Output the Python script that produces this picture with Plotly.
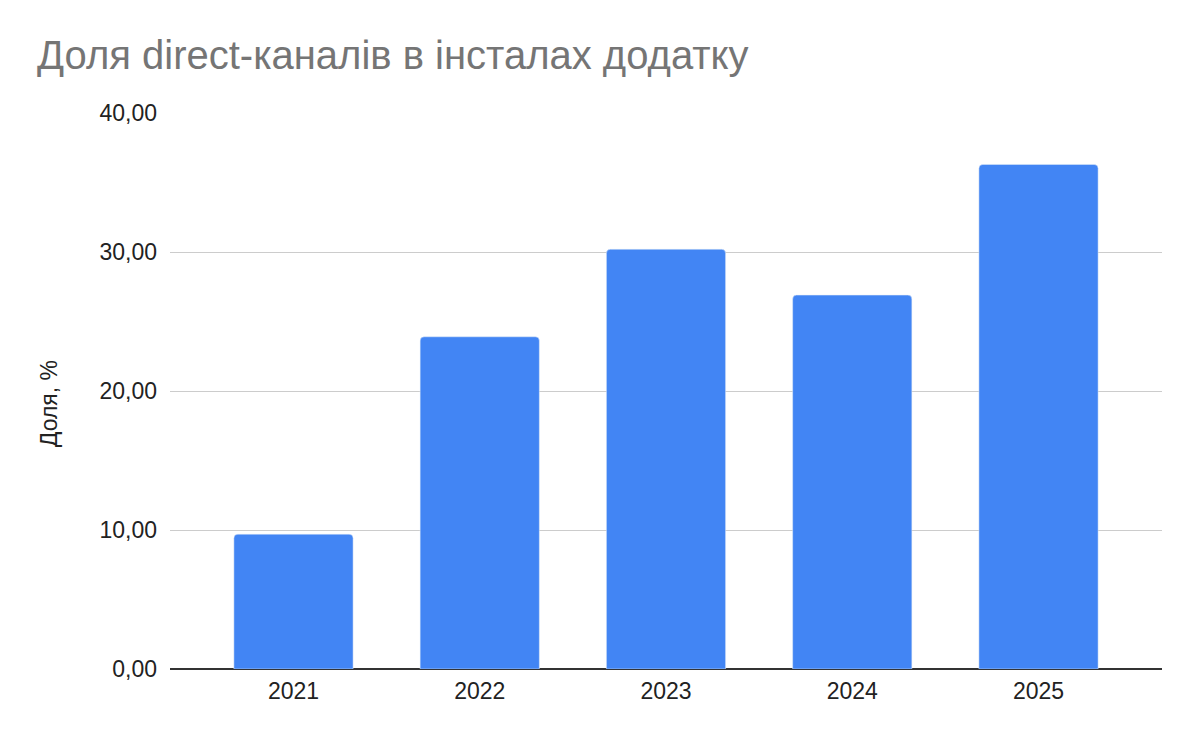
import plotly.graph_objects as go

# data
years = ["2021", "2022", "2023", "2024", "2025"]
share = [9.7, 23.9, 30.2, 26.9, 36.3]
y_ticks = [0, 10, 20, 30, 40]

fig = go.Figure()
fig.add_trace(go.Bar(
    x=years,
    y=share,
    marker=dict(color="#4285F4", cornerradius=4),
    hoverinfo="x+y",
))

# page body has an 8px margin, so figure coords are shifted by 8
fig.update_layout(
    width=1200,
    height=742,
    paper_bgcolor="white",
    plot_bgcolor="white",
    separators=", ",
    font=dict(family="Liberation Sans, Arial, sans-serif", size=23, color="#000000"),
    title=dict(
        text="Доля direct-каналів в інсталах додатку",
        font=dict(family="Liberation Sans, Arial, sans-serif", size=40, color="#757575"),
        x=29 / 1200,
        xanchor="left",
        xref="container",
        y=1 - 47 / 742,
        yanchor="middle",
        yref="container",
    ),
    margin=dict(l=162, r=46, t=105, b=81),
    bargap=0.36,
    showlegend=False,
)

# y title as annotation so it can sit a bit below the middle like the original
fig.add_annotation(
    text="Доля, %",
    textangle=-90,
    xref="paper", yref="paper",
    x=-0.122, y=0.478,
    xanchor="center", yanchor="middle",
    showarrow=False,
    font=dict(size=23, color="#222222"),
)

pad = 0.163
fig.update_xaxes(
    type="category",
    range=[-0.5 - pad, len(years) - 0.5 + pad],
    showgrid=False,
    showline=False,
    ticks="",
    ticklabelstandoff=6,
    tickfont=dict(size=23, color="#222222"),
)
fig.update_yaxes(
    range=[0, 40],
    tickvals=y_ticks,
    tickformat=".2f",
    showgrid=True,
    gridcolor="#cccccc",
    gridwidth=1,
    zeroline=True,
    zerolinecolor="#333333",
    zerolinewidth=2,
    ticklabelstandoff=12,
    tickfont=dict(size=23, color="#222222"),
)

fig.write_html("out.html")
